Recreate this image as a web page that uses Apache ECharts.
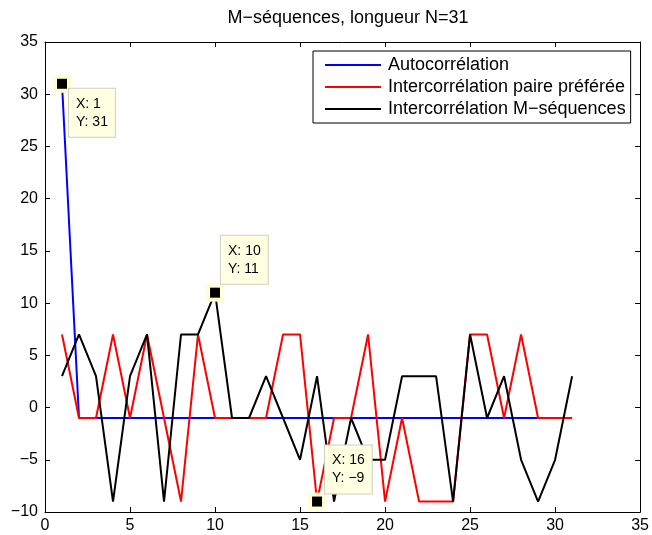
<!DOCTYPE html>
<html><head><meta charset="utf-8">
<script src="https://cdn.jsdelivr.net/npm/echarts@6/dist/echarts.min.js"></script>
<style>html,body{margin:0;padding:0;background:#fff}#c{width:652px;height:535px}</style>
</head><body><div id="c"></div>
<script>
const lags = Array.from({length: 31}, (_, i) => i + 1);
const autoCorr = [31,-1,-1,-1,-1,-1,-1,-1,-1,-1,-1,-1,-1,-1,-1,-1,-1,-1,-1,-1,-1,-1,-1,-1,-1,-1,-1,-1,-1,-1,-1];
const crossPreferred = [7,-1,-1,7,-1,7,-1,-9,7,-1,-1,-1,-1,7,7,-9,-1,-1,7,-9,-1,-9,-9,-9,7,7,-1,7,-1,-1,-1];
const crossMseq = [3,7,3,-9,3,7,-9,7,7,11,-1,-1,3,-1,-5,3,-9,-1,-5,-5,3,3,3,-9,7,-1,3,-5,-9,-5,3];
const seriesNames = ['Autocorrélation','Intercorrélation paire préférée','Intercorrélation M−séquences'];
const xTicks = [0,5,10,15,20,25,30,35];
const yTicks = [-10,-5,0,5,10,15,20,25,30,35];
// data tips: [series values, lag]
const tipSources = [[autoCorr, 1], [crossMseq, 10], [crossPreferred, 16]];

const FONT = 'Liberation Sans';
const minus = v => String(v).replace('-', '\u2212');
const pairs = arr => lags.map((x, i) => [x, arr[i]]);

const tipLabelCfg = [
  {position: [12, 10], verticalAlign: 'top'},
  {position: [11, -4], verticalAlign: 'bottom'},
  {position: [13, -3], verticalAlign: 'bottom'}
];
const tipPoints = tipSources.map(([arr, lag]) => [lag, arr[lag - 1]]);
const tipData = tipPoints.map(([lag, y], k) => ({
  value: [lag, y],
  label: Object.assign({
    show: true,
    formatter: 'X: ' + lag + '\nY: ' + minus(y),
    align: 'left',
    color: '#000',
    opacity: 1,
    fontFamily: FONT,
    fontSize: 14,
    lineHeight: 18,
    backgroundColor: '#ffffe1',
    borderColor: '#cfcfc0',
    borderWidth: 1,
    padding: [6, 7, 6, 7]
  }, tipLabelCfg[k])
}));

const axisCommon = {
  axisLine: {show: true, onZero: false, lineStyle: {color: '#000', width: 1}},
  axisTick: {show: true, inside: true, length: 5, lineStyle: {color: '#000'}},
  splitLine: {show: false}
};

const chart = echarts.init(document.getElementById('c'), null, {renderer: 'canvas'});
chart.setOption({
  animation: false,
  backgroundColor: '#fff',
  title: {
    text: 'M\u2212séquences, longueur N=31',
    left: 343, top: 4, textAlign: 'center',
    textStyle: {fontFamily: FONT, fontSize: 18, fontWeight: 'normal', color: '#000'}
  },
  grid: {left: 45, right: 11, top: 42, bottom: 23, containLabel: false},
  xAxis: [
    Object.assign({type: 'value', min: 0, max: 35, interval: 5, position: 'bottom',
      axisLabel: {color: '#000', fontFamily: FONT, fontSize: 16, margin: 6, formatter: v => minus(v)}}, axisCommon),
    Object.assign({type: 'value', min: 0, max: 35, interval: 5, position: 'top',
      axisLabel: {show: false}}, axisCommon)
  ],
  yAxis: [
    Object.assign({type: 'value', min: -10, max: 35, interval: 5, position: 'left',
      axisLabel: {color: '#000', fontFamily: FONT, fontSize: 16, margin: 7, formatter: v => minus(v)}}, axisCommon),
    Object.assign({type: 'value', min: -10, max: 35, interval: 5, position: 'right',
      axisLabel: {show: false}}, axisCommon)
  ],
  legend: {
    data: seriesNames,
    orient: 'vertical',
    left: 313, top: 51,
    padding: [5, 5, 5, 12],
    icon: 'rect',
    itemWidth: 56, itemHeight: 2, itemGap: 4,
    backgroundColor: '#fff',
    borderColor: '#000', borderWidth: 1, borderRadius: 0,
    textStyle: {fontFamily: FONT, fontSize: 18, color: '#000', padding: [0, 0, 0, 2]}
  },
  series: [
    {name: seriesNames[0], type: 'line', data: pairs(autoCorr), symbol: 'none', lineStyle: {color: '#0000ff', width: 2}, itemStyle: {color: '#0000ff'}},
    {name: seriesNames[1], type: 'line', data: pairs(crossPreferred), symbol: 'none', lineStyle: {color: '#ff0000', width: 2}, itemStyle: {color: '#ff0000'}},
    {name: seriesNames[2], type: 'line', data: pairs(crossMseq), symbol: 'none', lineStyle: {color: '#000000', width: 2}, itemStyle: {color: '#000000'}},
    {name: 'tipHalo', type: 'scatter', data: tipPoints, symbol: 'rect', symbolSize: 18, z: 9, silent: true,
      itemStyle: {color: '#ffffd6', opacity: 1}},
    {name: 'tips', type: 'scatter', data: tipData, symbol: 'rect', symbolSize: 10, z: 10, silent: true,
      itemStyle: {color: '#000', opacity: 1}}
  ]
});
</script></body></html>
